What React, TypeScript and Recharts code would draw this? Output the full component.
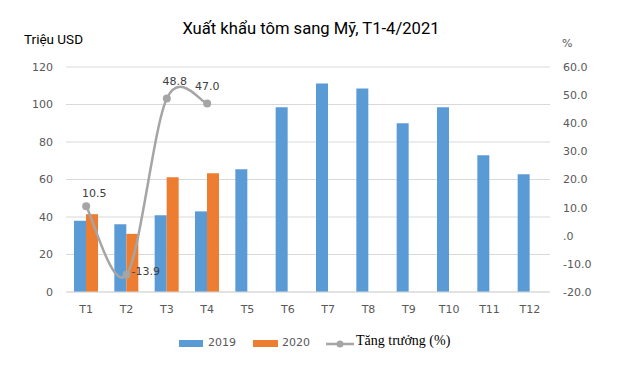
import React from 'react';
import { ComposedChart, Bar, Line, XAxis, YAxis, CartesianGrid, LabelList } from 'recharts';

const months = ['T1', 'T2', 'T3', 'T4', 'T5', 'T6', 'T7', 'T8', 'T9', 'T10', 'T11', 'T12'];
const exports2019 = [38, 36.2, 41, 43, 65.5, 98.5, 111.2, 108.6, 90, 98.5, 73, 62.8];
const exports2020: (number | null)[] = [41.5, 31, 61.2, 63.3, null, null, null, null, null, null, null, null];
const growth: (number | null)[] = [10.5, -13.9, 48.8, 47.0, null, null, null, null, null, null, null, null];
const leftTicks = [0, 20, 40, 60, 80, 100, 120];
const rightTicks = [-20, -10, 0, 10, 20, 30, 40, 50, 60];

const data = months.map((m, i) => ({ month: m, y2019: exports2019[i], y2020: exports2020[i], growth: growth[i] }));

const BLUE = '#5b9bd5';
const ORANGE = '#ed7d31';
const GRAY = '#a5a5a5';
const TEXT = '#595959';
const tickFont = { fontSize: 11, fill: TEXT, fontFamily: 'DejaVu Sans' };

// Excel-like smoothed line (Catmull-Rom style Bezier segments)
const smoothCurve = (context: any) => {
  let pts: [number, number][] = [];
  return {
    areaStart() {},
    areaEnd() {},
    lineStart() {
      pts = [];
    },
    point(x: number, y: number) {
      pts.push([+x, +y]);
    },
    lineEnd() {
      const n = pts.length;
      if (!n) return;
      context.moveTo(pts[0][0], pts[0][1]);
      if (n === 1) {
        context.lineTo(pts[0][0], pts[0][1]);
        return;
      }
      for (let i = 0; i < n - 1; i++) {
        const p0 = pts[i - 1] || pts[i];
        const p1 = pts[i];
        const p2 = pts[i + 1];
        const p3 = pts[i + 2] || p2;
        const c1x = p1[0] + (p2[0] - p0[0]) / 6;
        const c1y = p1[1] + (p2[1] - p0[1]) / 6;
        const c2x = p2[0] - (p3[0] - p1[0]) / 6;
        const c2y = p2[1] - (p3[1] - p1[1]) / 6;
        context.bezierCurveTo(c1x, c1y, c2x, c2y, p2[0], p2[1]);
      }
    },
  };
};

const GrowthLabel = (props: any) => {
  const { x, y, value, index } = props;
  if (value == null) return null;
  const txt = Number(value).toFixed(1);
  if (index === 1) {
    return (
      <text x={x + 5} y={y - 3} fontSize={11} fontFamily="DejaVu Sans" fill="#404040" dominantBaseline="central" textAnchor="start">
        {txt}
      </text>
    );
  }
  const dx = index === 3 ? 0 : 8;
  const dy = index === 0 ? -13 : -17;
  return (
    <text x={x + dx} y={y + dy} fontSize={11} fontFamily="DejaVu Sans" fill="#404040" dominantBaseline="central" textAnchor="middle">
      {txt}
    </text>
  );
};

export default function App() {
  return (
    <div style={{ position: 'relative', margin: -8, width: 633, height: 369, background: '#fff', overflow: 'hidden' }}>
      <div style={{ position: 'absolute', left: 3, top: 3, width: 623, height: 361, border: '1px solid #d9d9d9' }} />
      <div style={{ position: 'absolute', left: 0, width: 622, top: 19, textAlign: 'center', fontFamily: 'Roboto', fontSize: 16.6, color: '#000' }}>
        Xuất khẩu tôm sang Mỹ, T1-4/2021
      </div>
      <div style={{ position: 'absolute', left: 24, top: 31, fontFamily: 'Roboto', fontSize: 13.5, color: '#000' }}>Triệu USD</div>
      <div style={{ position: 'absolute', left: 562, top: 37, fontFamily: 'DejaVu Sans', fontSize: 11, color: TEXT }}>%</div>
      <div style={{ position: 'absolute', left: 0, top: 0 }}>
        <ComposedChart width={633} height={369} data={data} margin={{ top: 67, right: 0, bottom: 0, left: 0 }} barGap={0}>
          <CartesianGrid vertical={false} stroke="#d9d9d9" yAxisId="left" />
          <XAxis dataKey="month" height={77} tickLine={false} tickSize={0} tickMargin={13} axisLine={{ stroke: '#d9d9d9' }} tick={tickFont} interval={0} />
          <YAxis yAxisId="left" orientation="left" width={66} domain={[0, 120]} ticks={leftTicks} axisLine={false} tickLine={false} tickSize={0} tickMargin={13} tick={tickFont} />
          <YAxis yAxisId="right" orientation="right" width={83} domain={[-20, 60]} ticks={rightTicks} axisLine={false} tickLine={false} tickSize={0} tickMargin={13} tick={{ ...tickFont, textAnchor: 'start' }}
            tickFormatter={(v: number) => (v === 0 ? '.0' : v.toFixed(1))} />
          <Bar yAxisId="left" dataKey="y2019" fill={BLUE} barSize={12} isAnimationActive={false} />
          <Bar yAxisId="left" dataKey="y2020" fill={ORANGE} barSize={12} isAnimationActive={false} />
          <Line yAxisId="right" dataKey="growth" type={smoothCurve as any} stroke={GRAY} strokeWidth={2.5} dot={{ r: 4, fill: GRAY, stroke: GRAY, strokeWidth: 0 }} isAnimationActive={false}>
            <LabelList dataKey="growth" content={GrowthLabel} />
          </Line>
        </ComposedChart>
      </div>
      <div style={{ position: 'absolute', left: 179, top: 340, width: 24, height: 7, background: BLUE }} />
      <div style={{ position: 'absolute', left: 208, top: 336, fontFamily: 'DejaVu Sans', fontSize: 11, color: TEXT }}>2019</div>
      <div style={{ position: 'absolute', left: 253, top: 340, width: 25, height: 7, background: ORANGE }} />
      <div style={{ position: 'absolute', left: 282, top: 336, fontFamily: 'DejaVu Sans', fontSize: 11, color: TEXT }}>2020</div>
      <svg style={{ position: 'absolute', left: 326, top: 338 }} width={28} height={12}>
        <line x1={0} y1={6} x2={28} y2={6} stroke={GRAY} strokeWidth={2.5} />
        <circle cx={14} cy={6} r={3.5} fill={GRAY} />
      </svg>
      <div style={{ position: 'absolute', left: 356, top: 333, fontFamily: 'Liberation Serif', fontSize: 14, color: '#000' }}>Tăng trưởng (%)</div>
    </div>
  );
}
